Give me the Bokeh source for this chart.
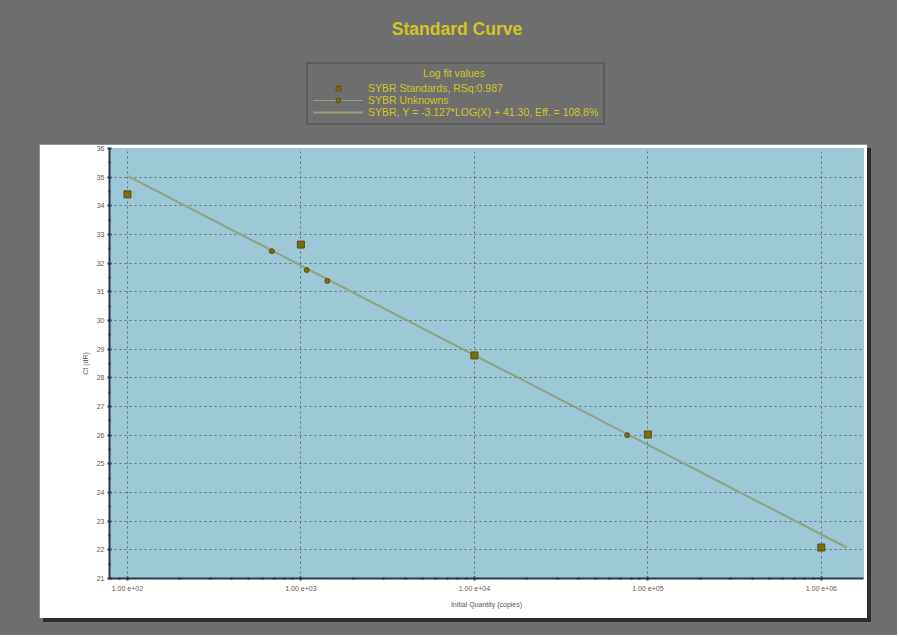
from bokeh.plotting import figure
from bokeh.models import (ColumnDataSource, FixedTicker, Label, Legend,
                          LegendItem, Spacer, Range1d)
from bokeh.layouts import column, row
from bokeh.embed import file_html
from bokeh.resources import INLINE
import math

# ---- data ----
std_qty = [1e2, 1e3, 1e4, 1e5, 1e6]
std_ct = [34.4, 32.65, 28.78, 26.02, 22.08]

unk_qty = [680, 1080, 1420, 76000]
unk_ct = [32.42, 31.76, 31.38, 26.0]

fit_slope = -3.127
fit_intercept = 41.30
fit_x = [1e2, 1.4e6]

x_ticks = [1e2, 1e3, 1e4, 1e5, 1e6]
x_tick_labels = ["1.00 e+02", "1.00 e+03", "1.00 e+04", "1.00 e+05", "1.00 e+06"]
y_ticks = list(range(21, 37))

legend_labels = ["SYBR Standards, RSq:0.987", "SYBR Unknowns",
                 "SYBR, Y = -3.127*LOG(X) + 41.30, Eff. = 108.8%"]

fit_y = [fit_slope * math.log10(v) + fit_intercept for v in fit_x]

GRAY = "#6f6f6f"
YELLOW = "#d0c520"
BLUE = "#9bc7d7"
PT = "#7d6c12"
PT_EDGE = "#5c500c"
LINE = "#8ea47c"
AXIS = "#28394b"
FONT = "Liberation Sans"
NAN = float("nan")

# ---------------- header (title + legend) ----------------
hdr = figure(width=897, height=144, x_range=Range1d(0, 897), y_range=Range1d(144, 0),
             output_backend="svg", toolbar_location=None,
             x_axis_location=None, y_axis_location=None,
             min_border=0, min_border_left=0, min_border_right=0,
             min_border_top=0, min_border_bottom=0)
hdr.border_fill_color = GRAY
hdr.background_fill_color = GRAY
hdr.outline_line_color = None
hdr.grid.visible = False

# legend-only renderers (NaN data: nothing is drawn in the header itself)
h_std = hdr.scatter(x=[NAN], y=[NAN], marker="square", size=7,
                    fill_color=PT, line_color=PT_EDGE)
h_unk = hdr.scatter(x=[NAN], y=[NAN], marker="circle", size=5,
                    fill_color=PT, line_color=PT_EDGE)
h_unk_line = hdr.line(x=[NAN, NAN], y=[NAN, NAN], line_color=LINE, line_width=1)
h_fit = hdr.line(x=[NAN, NAN], y=[NAN, NAN], line_color=LINE, line_width=2)

hdr.add_layout(Label(x=453.5, y=72, text="Log fit values", text_align="center",
                     text_baseline="middle", text_color=YELLOW, text_font=FONT,
                     text_font_size="10.5px"))

legend = Legend(items=[
    LegendItem(label=legend_labels[0], renderers=[h_std]),
    LegendItem(label=legend_labels[1], renderers=[h_unk_line, h_unk]),
    LegendItem(label=legend_labels[2], renderers=[h_fit]),
], location=(306, 19))
legend.title = " "
legend.title_text_font_size = "10px"
legend.title_standoff = 2
legend.label_text_color = YELLOW
legend.label_text_font = FONT
legend.label_text_font_size = "10.5px"
legend.background_fill_color = GRAY
legend.background_fill_alpha = 0
legend.border_line_color = "#4a4a4a"
legend.border_line_width = 2
legend.glyph_height = 12
legend.glyph_width = 50
legend.label_height = 12
legend.spacing = 0
legend.padding = 5
legend.margin = 0
legend.label_standoff = 5
hdr.add_layout(legend)

hdr.add_layout(Label(x=456.5, y=28.5, text="Standard Curve", text_align="center",
                     text_baseline="middle", text_color=YELLOW, text_font=FONT,
                     text_font_size="17.5px", text_font_style="bold"))

# ---------------- main chart ----------------
p = figure(width=828, height=474, x_axis_type="log",
           x_range=(78.8, 1.75e6), y_range=(21, 36),
           output_backend="svg", toolbar_location=None,
           min_border_left=70, min_border_right=4,
           min_border_top=4, min_border_bottom=40,
           styles={"box-shadow": "4px 4px 0px #2c2c2c"})
p.border_fill_color = "white"
p.background_fill_color = BLUE
p.outline_line_color = None

minor_x = [m * d for d in [1e1, 1e2, 1e3, 1e4, 1e5, 1e6] for m in range(2, 10)]
p.xaxis.ticker = FixedTicker(ticks=x_ticks, minor_ticks=minor_x)
p.xaxis.major_label_overrides = {t: l for t, l in zip(x_ticks, x_tick_labels)}
p.yaxis.ticker = FixedTicker(ticks=y_ticks, minor_ticks=[v + 0.5 for v in y_ticks])
p.xaxis.axis_label = "Initial Quantity (copies)"
p.yaxis.axis_label = "Ct (dR)"
for ax in (p.xaxis, p.yaxis):
    ax.axis_line_color = AXIS
    ax.axis_line_width = 2
    ax.major_tick_line_color = AXIS
    ax.minor_tick_line_color = AXIS
    ax.major_tick_line_width = 2
    ax.minor_tick_line_width = 2
    ax.major_tick_in = 2
    ax.major_tick_out = 2
    ax.minor_tick_in = 1
    ax.minor_tick_out = 1
    ax.major_label_text_font = FONT
    ax.major_label_text_font_size = "7px"
    ax.major_label_text_color = "#5a5a5a"
    ax.axis_label_text_font = FONT
    ax.axis_label_text_font_size = "7px"
    ax.axis_label_text_color = "#5a5a5a"
    ax.axis_label_text_font_style = "normal"
p.xaxis.major_label_standoff = 4
p.yaxis.major_label_standoff = 3
p.xaxis.axis_label_standoff = 6
p.yaxis.axis_label_standoff = 5

p.grid.grid_line_color = "#4e5e6c"
p.grid.grid_line_alpha = 0.8
p.grid.grid_line_dash = "2 3"
p.grid.grid_line_width = 1

fit_src = ColumnDataSource(dict(x=fit_x, y=fit_y))
p.line("x", "y", source=fit_src, line_color=LINE, line_width=2)
p.scatter(std_qty, std_ct, marker="square", size=7,
          fill_color=PT, line_color=PT_EDGE)
p.scatter(unk_qty, unk_ct, marker="circle", size=5,
          fill_color=PT, line_color=PT_EDGE)

layout = column(
    hdr,
    row(Spacer(width=39, height=474), p),
    Spacer(width=897, height=17),
    styles={"background-color": GRAY},
)

open("out.html", "w").write(file_html(layout, INLINE))
